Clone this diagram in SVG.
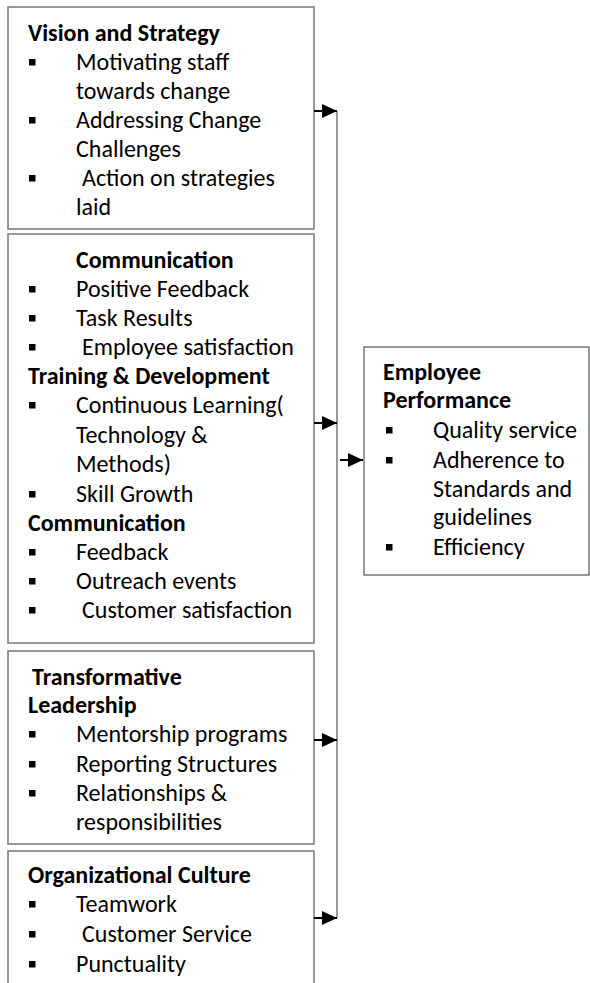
<svg xmlns="http://www.w3.org/2000/svg" width="590" height="983" viewBox="0 0 590 983">
<defs>
<style>
.box{fill:#fff;stroke:#7f7f7f;stroke-width:1.6}
text{font-family:Carlito,Calibri,Lato,"Liberation Sans",sans-serif;font-size:24px;fill:#000}
.h{font-weight:bold}
.b{fill:#000}
.conn{fill:none;stroke:#7f7f7f;stroke-width:1.6}
.arr{stroke:#000;stroke-width:2}
</style>
<marker id="ah" viewBox="0 0 15 14" refX="15" refY="7" markerWidth="15" markerHeight="14" markerUnits="userSpaceOnUse" orient="auto">
<path d="M0,0 L15,7 L0,14 z" fill="#000"/>
</marker>
</defs>
<rect width="590" height="983" fill="#fff"/>

<g id="vision">
<rect class="box" x="8" y="7" width="306" height="222"/>
<text class="h" x="28" y="41">Vision and Strategy</text>
<rect class="b" x="29" y="59" width="6.5" height="6.5"/>
<text x="76" y="70">Motivating staff</text>
<text x="76" y="99">towards change</text>
<rect class="b" x="29" y="117" width="6.5" height="6.5"/>
<text x="76" y="128">Addressing Change</text>
<text x="76" y="157">Challenges</text>
<rect class="b" x="29" y="175" width="6.5" height="6.5"/>
<text x="82" y="186">Action on strategies</text>
<text x="76" y="215">laid</text>
</g>

<g id="communication">
<rect class="box" x="8" y="234" width="306" height="409"/>
<text class="h" x="76" y="268">Communication</text>
<rect class="b" x="29" y="286" width="6.5" height="6.5"/>
<text x="76" y="297">Positive Feedback</text>
<rect class="b" x="29" y="315" width="6.5" height="6.5"/>
<text x="76" y="326">Task Results</text>
<rect class="b" x="29" y="344" width="6.5" height="6.5"/>
<text x="82" y="355">Employee satisfaction</text>
<text class="h" x="28" y="384">Training &amp; Development</text>
<rect class="b" x="29" y="402" width="6.5" height="6.5"/>
<text x="76" y="413">Continuous Learning(</text>
<text x="76" y="443">Technology &amp;</text>
<text x="76" y="472">Methods)</text>
<rect class="b" x="29" y="491" width="6.5" height="6.5"/>
<text x="76" y="502">Skill Growth</text>
<text class="h" x="28" y="531">Communication</text>
<rect class="b" x="29" y="549" width="6.5" height="6.5"/>
<text x="76" y="560">Feedback</text>
<rect class="b" x="29" y="578" width="6.5" height="6.5"/>
<text x="76" y="589">Outreach events</text>
<rect class="b" x="29" y="607" width="6.5" height="6.5"/>
<text x="82" y="618">Customer satisfaction</text>
</g>

<g id="leadership">
<rect class="box" x="8" y="651" width="306" height="193"/>
<text class="h" x="32" y="685">Transformative</text>
<text class="h" x="28" y="713">Leadership</text>
<rect class="b" x="29" y="731" width="6.5" height="6.5"/>
<text x="76" y="742">Mentorship programs</text>
<rect class="b" x="29" y="761" width="6.5" height="6.5"/>
<text x="76" y="772">Reporting Structures</text>
<rect class="b" x="29" y="790" width="6.5" height="6.5"/>
<text x="76" y="801">Relationships &amp;</text>
<text x="76" y="830">responsibilities</text>
</g>

<g id="culture">
<rect class="box" x="8" y="851" width="306" height="140"/>
<text class="h" x="28" y="883">Organizational Culture</text>
<rect class="b" x="29" y="901" width="6.5" height="6.5"/>
<text x="76" y="912">Teamwork</text>
<rect class="b" x="29" y="931" width="6.5" height="6.5"/>
<text x="82" y="942">Customer Service</text>
<rect class="b" x="29" y="961" width="6.5" height="6.5"/>
<text x="76" y="972">Punctuality</text>
</g>

<g id="performance">
<rect class="box" x="364" y="347" width="225" height="228"/>
<text class="h" x="383" y="380">Employee</text>
<text class="h" x="383" y="408">Performance</text>
<rect class="b" x="386" y="427" width="6.5" height="6.5"/>
<text x="433" y="438">Quality service</text>
<rect class="b" x="386" y="457" width="6.5" height="6.5"/>
<text x="433" y="468">Adherence to</text>
<text x="433" y="497">Standards and</text>
<text x="433" y="525">guidelines</text>
<rect class="b" x="386" y="544" width="6.5" height="6.5"/>
<text x="433" y="555">Efficiency</text>
</g>

<g id="connectors">
<polyline class="conn" points="337,111 337,918"/>
<line class="arr" x1="314" y1="111" x2="337" y2="111" marker-end="url(#ah)"/>
<line class="arr" x1="314" y1="423" x2="337" y2="423" marker-end="url(#ah)"/>
<line class="arr" x1="314" y1="740" x2="337" y2="740" marker-end="url(#ah)"/>
<line class="arr" x1="314" y1="918" x2="337" y2="918" marker-end="url(#ah)"/>
<line class="arr" x1="340" y1="460" x2="363" y2="460" marker-end="url(#ah)"/>
</g>
</svg>
